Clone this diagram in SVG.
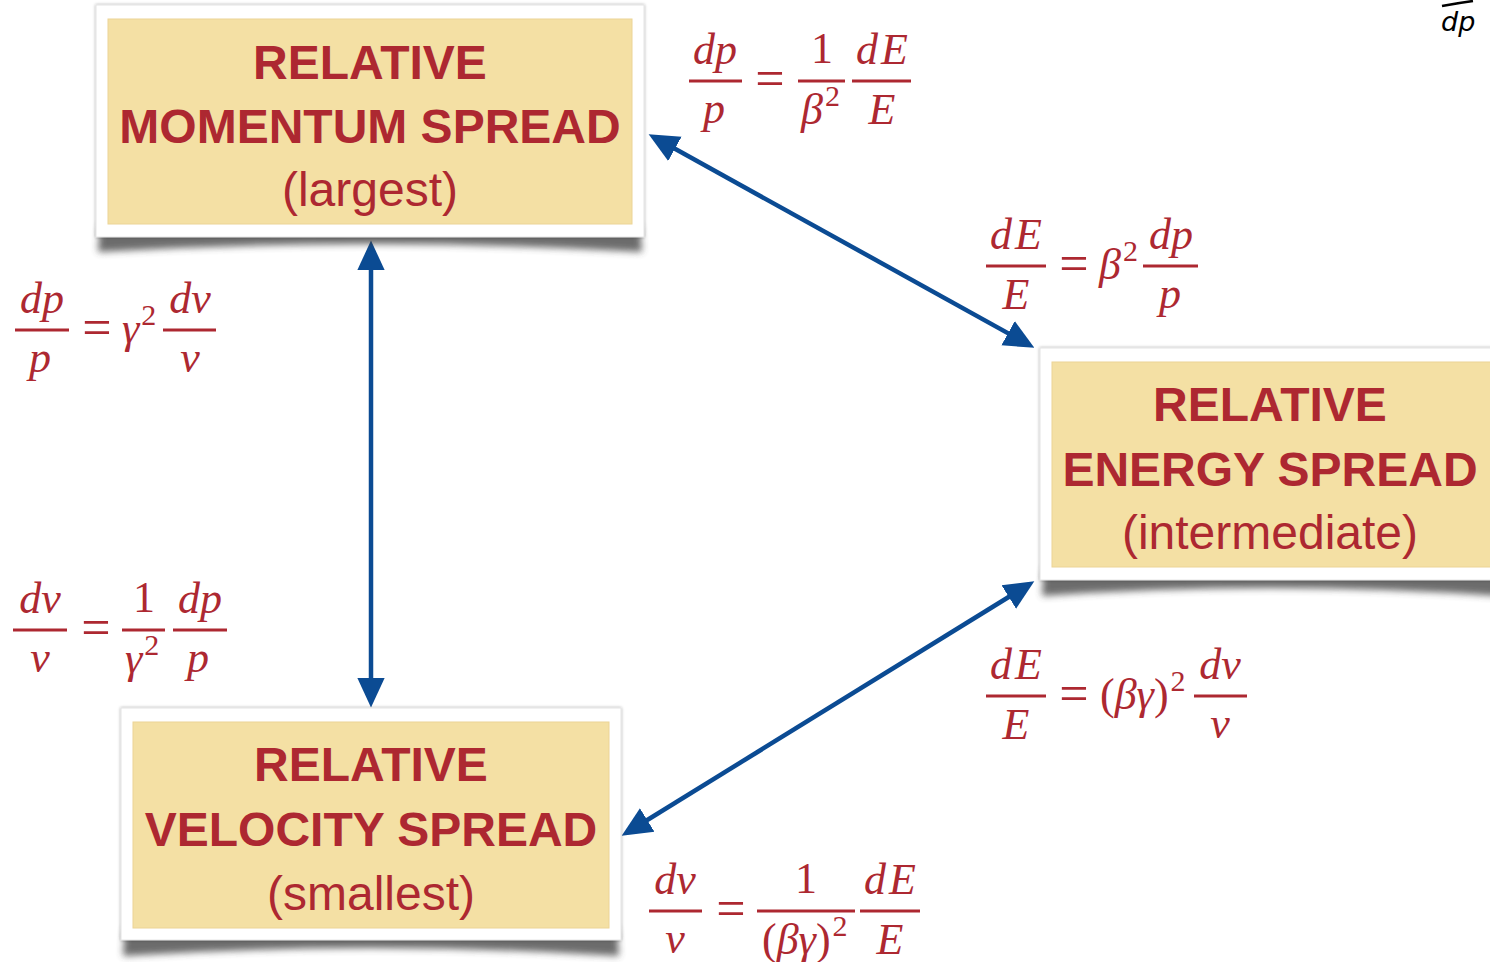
<svg xmlns="http://www.w3.org/2000/svg" width="1490" height="962" viewBox="0 0 1490 962">
<defs>
<style>
.title{font-family:"Liberation Sans",Arial,sans-serif;font-weight:bold;font-size:48px;fill:#ad2831;text-anchor:middle}
.sub{font-family:"Liberation Sans",Arial,sans-serif;font-size:48px;fill:#ad2831;text-anchor:middle}
.m{font-family:"Liberation Serif","Times New Roman",serif;font-size:44px;fill:#ad2831;font-style:italic}
.c{text-anchor:middle}
.u{font-style:normal}
.eq{font-size:52px;font-style:normal}
.bar{stroke:#ad2831;stroke-width:3}
.frame{fill:#ffffff;stroke:#e4e4e4;stroke-width:1}
.inner{fill:#f4e0a4;stroke:#ecd496;stroke-width:1}
.conn{stroke:#0b4b93;stroke-width:4.5;fill:none;marker-start:url(#ah);marker-end:url(#ah)}
</style>
<marker id="ah" markerUnits="userSpaceOnUse" markerWidth="30" markerHeight="30" viewBox="0 0 26 24" refX="16" refY="12" orient="auto-start-reverse">
<path d="M0,0 L26,12 L0,24 z" fill="#0b4b93"/>
</marker>
<filter id="blur" x="-10%" y="-50%" width="120%" height="200%"><feGaussianBlur stdDeviation="3.5"/></filter>
<filter id="soft" x="-5%" y="-5%" width="110%" height="110%"><feDropShadow dx="0" dy="0" stdDeviation="1.5" flood-color="#000" flood-opacity="0.35"/></filter>
</defs>
<rect width="1490" height="962" fill="#ffffff"/>

<g id="connectors">
<line class="conn" x1="371" y1="252" x2="371" y2="696"/>
<line class="conn" x1="658.75" y1="139.84" x2="1024.25" y2="342.16"/>
<line class="conn" x1="1024.5" y1="587.25" x2="631.5" y2="829.75"/>
</g>

<g id="node-momentum">
<path d="M100,225 L640,225 L642,252 Q370,236 98,252 Z" fill="#3a3a3a" opacity="0.75" filter="url(#blur)"/>
<rect class="frame" x="96" y="5" width="548" height="232" filter="url(#soft)"/>
<rect class="inner" x="108" y="19" width="524" height="205"/>
<text class="title" x="370" y="79">RELATIVE</text>
<text class="title" x="370" y="143">MOMENTUM SPREAD</text>
<text class="sub" x="370" y="206">(largest)</text>
</g>

<g id="node-energy">
<path d="M1044,568 L1500,568 L1500,596 Q1270,580 1042,596 Z" fill="#3a3a3a" opacity="0.75" filter="url(#blur)"/>
<rect class="frame" x="1040" y="348" width="470" height="232" filter="url(#soft)"/>
<rect class="inner" x="1052" y="362" width="450" height="205"/>
<text class="title" x="1270" y="421">RELATIVE</text>
<text class="title" x="1270" y="486">ENERGY SPREAD</text>
<text class="sub" x="1270" y="549">(intermediate)</text>
</g>

<g id="node-velocity">
<path d="M125,928 L617,928 L619,956 Q371,940 123,956 Z" fill="#3a3a3a" opacity="0.75" filter="url(#blur)"/>
<rect class="frame" x="121" y="708" width="500" height="232" filter="url(#soft)"/>
<rect class="inner" x="133" y="722" width="476" height="206"/>
<text class="title" x="371" y="781">RELATIVE</text>
<text class="title" x="371" y="846">VELOCITY SPREAD</text>
<text class="sub" x="371" y="910">(smallest)</text>
</g>

<g id="eq-p-from-E">
<text class="m c" x="715" y="64">dp</text>
<line class="bar" x1="689" y1="81" x2="742" y2="81"/>
<text class="m c" x="714" y="123">p</text>
<text class="m c eq" x="770" y="96">=</text>
<text class="m c u" x="822" y="63">1</text>
<line class="bar" x1="798" y1="81" x2="845" y2="81"/>
<text class="m" x="801" y="124">β<tspan class="u" font-size="30" dx="2" dy="-18">2</tspan></text>
<text class="m c" x="882" y="64">d<tspan dx="3">E</tspan></text>
<line class="bar" x1="852" y1="81" x2="911" y2="81"/>
<text class="m c" x="882" y="124">E</text>
</g>

<g id="eq-E-from-p">
<text class="m c" x="1016" y="249">d<tspan dx="3">E</tspan></text>
<line class="bar" x1="986" y1="266" x2="1046" y2="266"/>
<text class="m c" x="1016" y="309">E</text>
<text class="m c eq" x="1074" y="281">=</text>
<text class="m" x="1099" y="279">β<tspan class="u" font-size="30" dx="2" dy="-18">2</tspan></text>
<text class="m c" x="1171" y="249">dp</text>
<line class="bar" x1="1143" y1="266" x2="1198" y2="266"/>
<text class="m c" x="1170" y="308">p</text>
</g>

<g id="eq-p-from-v">
<text class="m c" x="42" y="313">dp</text>
<line class="bar" x1="15" y1="330" x2="69" y2="330"/>
<text class="m c" x="40" y="372">p</text>
<text class="m c eq" x="97" y="345">=</text>
<text class="m" x="122" y="343">γ<tspan class="u" font-size="30" dx="2" dy="-18">2</tspan></text>
<text class="m c" x="190" y="313">dv</text>
<line class="bar" x1="163" y1="330" x2="216" y2="330"/>
<text class="m c" x="190" y="372">v</text>
</g>

<g id="eq-v-from-p">
<text class="m c" x="40" y="613">dv</text>
<line class="bar" x1="13" y1="630" x2="67" y2="630"/>
<text class="m c" x="40" y="672">v</text>
<text class="m c eq" x="96" y="645">=</text>
<text class="m c u" x="144" y="612">1</text>
<line class="bar" x1="122" y1="630" x2="165" y2="630"/>
<text class="m" x="125" y="673">γ<tspan class="u" font-size="30" dx="2" dy="-18">2</tspan></text>
<text class="m c" x="200" y="613">dp</text>
<line class="bar" x1="173" y1="630" x2="227" y2="630"/>
<text class="m c" x="198" y="672">p</text>
</g>

<g id="eq-E-from-v">
<text class="m c" x="1016" y="679">d<tspan dx="3">E</tspan></text>
<line class="bar" x1="986" y1="696" x2="1046" y2="696"/>
<text class="m c" x="1016" y="739">E</text>
<text class="m c eq" x="1074" y="711">=</text>
<text class="m" x="1100" y="709"><tspan class="u">(</tspan>βγ<tspan class="u">)</tspan><tspan class="u" font-size="30" dx="2" dy="-18">2</tspan></text>
<text class="m c" x="1220" y="679">dv</text>
<line class="bar" x1="1194" y1="696" x2="1247" y2="696"/>
<text class="m c" x="1220" y="738">v</text>
</g>

<g id="eq-v-from-E">
<text class="m c" x="675" y="894">dv</text>
<line class="bar" x1="649" y1="911" x2="702" y2="911"/>
<text class="m c" x="675" y="953">v</text>
<text class="m c eq" x="731" y="926">=</text>
<text class="m c u" x="806" y="893">1</text>
<line class="bar" x1="757" y1="911" x2="855" y2="911"/>
<text class="m" x="762" y="954"><tspan class="u">(</tspan>βγ<tspan class="u">)</tspan><tspan class="u" font-size="30" dx="2" dy="-18">2</tspan></text>
<text class="m c" x="890" y="894">d<tspan dx="3">E</tspan></text>
<line class="bar" x1="860" y1="911" x2="920" y2="911"/>
<text class="m c" x="890" y="954">E</text>
</g>

<g id="handwritten-note">
<path d="M1442,6 Q1458,3 1473,1" stroke="#000" stroke-width="2.5" fill="none"/>
<text x="1441" y="31" font-family="DejaVu Sans, sans-serif" font-style="italic" font-size="27" fill="#000">dp</text>
</g>
</svg>
